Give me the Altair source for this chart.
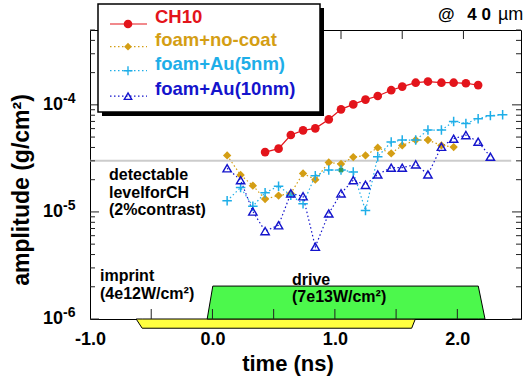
import altair as alt
import pandas as pd

FONT = "Liberation Sans"

# sampling times (ns) shared by all series
time_ns = [0.12, 0.23, 0.33, 0.43, 0.54, 0.64, 0.74, 0.84, 0.95, 1.05, 1.15, 1.25,
           1.35, 1.46, 1.55, 1.66, 1.76, 1.87, 1.97, 2.07, 2.17, 2.27, 2.37]

# amplitude (g/cm^2) per series; CH10 starts at t = 0.43 ns
ch10 = [3.62e-5, 3.90e-5, 5.23e-5, 5.78e-5, 6.03e-5, 7.31e-5, 9.08e-5, 1.01e-4, 1.12e-4,
        1.21e-4, 1.37e-4, 1.48e-4, 1.61e-4, 1.65e-4, 1.61e-4, 1.61e-4, 1.59e-4, 1.53e-4]
foam_nocoat = [3.37e-5, 2.21e-5, 1.76e-5, 1.32e-5, 1.42e-5, 1.49e-5, 2.29e-5, 2.00e-5,
               2.90e-5, 2.80e-5, 3.25e-5, 3.37e-5, 3.98e-5, 3.52e-5, 4.18e-5, 4.69e-5,
               4.69e-5, 4.18e-5, 4.03e-5]
foam_au5 = [1.27e-5, 1.69e-5, 1.13e-5, 1.51e-5, 1.74e-5, 1.43e-5, 1.19e-5, 2.18e-5,
            2.46e-5, 2.46e-5, 2.36e-5, 1.03e-5, 3.28e-5, 4.49e-5, 4.69e-5, 4.69e-5,
            5.81e-5, 5.81e-5, 6.98e-5, 6.71e-5, 7.43e-5, 7.93e-5, 8.10e-5]
foam_au10 = [2.56e-5, 1.98e-5, 1.01e-5, 6.62e-6, 7.51e-6, 1.49e-5, 1.40e-5, 4.73e-6,
             9.68e-6, 1.49e-5, 1.98e-5, 1.79e-5, 2.24e-5, 2.59e-5, 2.59e-5, 2.78e-5,
             2.24e-5, 4.06e-5, 4.83e-5, 5.22e-5, 4.53e-5, 3.28e-5]
stray_t = [1.05]
stray_a = [2.46e-5]

# detectable level for CH (2% contrast)
detect_level = 3.0e-5
detect_t = [-1.0, 2.44]

# laser pulses drawn along the time axis
imprint_t = [-0.623, -0.574, 1.627, 1.657]
imprint_top = [1e-6, 1e-6, 1e-6, 1e-6]
imprint_bot = [1e-6, 8.2e-7, 8.2e-7, 1e-6]
drive_t = [-0.043, 0.003, 2.171, 2.226]
drive_top = [1e-6, 2.03e-6, 2.03e-6, 1e-6]
drive_bot = [1e-6, 1e-6, 1e-6, 1e-6]

x_ticks_bottom = [-0.5, 0.0, 0.5, 1.0, 1.5, 2.0]
x_ticks_top = [-0.45, 0.05, 0.55, 1.05, 1.55, 2.05]
x_labels = [-1.0, 0.0, 1.0, 2.0]
decades = [1e-4, 1e-5, 1e-6]
decade_exp = ["-4", "-5", "-6"]
minor_ticks = [m * d for d in [1e-6, 1e-5, 1e-4] for m in range(2, 10) if m * d <= 5e-4]

RED = "#e3141b"
GOLD = "#d49e14"
CYAN = "#1eaee8"
BLUE = "#1414cc"

W, H = 431, 289

x_scale = alt.Scale(domain=[-1.0, 2.52], nice=False, zero=False)
y_scale = alt.Scale(type="log", domain=[1e-6, 5e-4], nice=False)

label_expr = ("datum.value < 0 ? '-' + format(-datum.value, '.1f') "
              ": format(datum.value, '.1f')")
x_axis = alt.Axis(values=x_labels, labelExpr=label_expr, title=None, ticks=False,
                  domain=False, grid=False, labelFont=FONT, labelFontSize=18,
                  labelFontWeight="bold", labelColor="black", labelPadding=11,
                  labelFlush=False, labelOverlap=False)


def X(field="t"):
    return alt.X(f"{field}:Q", scale=x_scale, axis=x_axis)


def Y(field="a"):
    return alt.Y(f"{field}:Q", scale=y_scale, axis=None)


one = pd.DataFrame({"k": [0]})


def series_df(values, start):
    return pd.DataFrame({"t": time_ns[start:start + len(values)], "a": values})


df_ch10 = series_df(ch10, 3)
df_gold = series_df(foam_nocoat, 0)
df_cyan = series_df(foam_au5, 0)
df_blue = series_df(foam_au10, 0)

CROSS = "M-1,0H1M0,-1V1"

layers = []

# pulses
imprint_df = pd.DataFrame({"t": imprint_t, "a": imprint_top, "a2": imprint_bot})
drive_df = pd.DataFrame({"t": drive_t, "a": drive_top, "a2": drive_bot})
layers.append(alt.Chart(imprint_df).mark_area(color="#ffff40", stroke="black",
                                               strokeWidth=1, opacity=1)
              .encode(x=X(), y=Y(), y2="a2:Q"))
layers.append(alt.Chart(drive_df).mark_area(color="#4cf84c", stroke="black",
                                             strokeWidth=1, opacity=1)
              .encode(x=X(), y=Y(), y2="a2:Q"))

# detectable level line
detect_df = pd.DataFrame({"t": [detect_t[0]], "t2": [detect_t[1]], "a": [detect_level]})
layers.append(alt.Chart(detect_df).mark_rule(color="#cccccc", strokeWidth=2)
              .encode(x=X(), x2="t2:Q", y=Y()))

# inward axis ticks
tick_color = "#222222"
bt = pd.DataFrame({"t": x_ticks_bottom})
layers.append(alt.Chart(bt).mark_rule(color=tick_color, strokeWidth=1)
              .encode(x=X(), y=alt.value(H), y2=alt.value(H - 10)))
tt = pd.DataFrame({"t": x_ticks_top})
layers.append(alt.Chart(tt).mark_rule(color=tick_color, strokeWidth=1)
              .encode(x=X(), y=alt.value(0), y2=alt.value(9)))
maj = pd.DataFrame({"a": decades, "exp": decade_exp})
mnr = pd.DataFrame({"a": minor_ticks})
for x0, length in [(0, 9), (W, -9)]:
    layers.append(alt.Chart(maj).mark_rule(color=tick_color, strokeWidth=1)
                  .encode(y=Y(), x=alt.value(x0), x2=alt.value(x0 + length)))
    layers.append(alt.Chart(mnr).mark_rule(color=tick_color, strokeWidth=1)
                  .encode(y=Y(), x=alt.value(x0), x2=alt.value(x0 + length * 5 / 9)))

# series lines
layers.append(alt.Chart(df_gold).mark_line(color=GOLD, strokeWidth=1.2, strokeDash=[1.5, 2.5])
              .encode(x=X(), y=Y()))
layers.append(alt.Chart(df_cyan).mark_line(color=CYAN, strokeWidth=1.2, strokeDash=[1.5, 2.5])
              .encode(x=X(), y=Y()))
layers.append(alt.Chart(df_blue).mark_line(color=BLUE, strokeWidth=1.2, strokeDash=[1.5, 2.5])
              .encode(x=X(), y=Y()))
layers.append(alt.Chart(df_ch10).mark_line(color=RED, strokeWidth=1.2)
              .encode(x=X(), y=Y()))

# series markers
layers.append(alt.Chart(df_gold).mark_point(shape="diamond", filled=True, size=70,
                                             color=GOLD, opacity=1)
              .encode(x=X(), y=Y()))
layers.append(alt.Chart(df_cyan).mark_point(shape=CROSS, filled=False, size=90,
                                             color=CYAN, strokeWidth=1.5, opacity=1)
              .encode(x=X(), y=Y()))
stray_df = pd.DataFrame({"t": stray_t, "a": stray_a})
layers.append(alt.Chart(stray_df).mark_point(shape="cross", filled=True, size=30, angle=45,
                                              color="#2f9a5c", opacity=1)
              .encode(x=X(), y=Y()))
layers.append(alt.Chart(df_blue).mark_point(shape="triangle-up", filled=False, size=70,
                                             color=BLUE, strokeWidth=1.4, opacity=1)
              .encode(x=X(), y=Y()))
layers.append(alt.Chart(df_ch10).mark_point(shape="circle", filled=True, size=75,
                                             color=RED, opacity=1)
              .encode(x=X(), y=Y()))


def text(s, x, y, size=16, color="black", weight="bold", align="left",
         baseline="alphabetic", angle=0):
    return (alt.Chart(one)
            .mark_text(text=s, font=FONT, fontSize=size, fontWeight=weight, color=color,
                       align=align, baseline=baseline, angle=angle)
            .encode(x=alt.value(x), y=alt.value(y)))


# y axis decade labels 10^n
layers.append(alt.Chart(maj).mark_text(text="10", font=FONT, fontSize=18, fontWeight="bold",
                                        color="black", align="right", baseline="middle")
              .encode(y=Y(), x=alt.value(-27)))
layers.append(alt.Chart(maj).mark_text(font=FONT, fontSize=14, fontWeight="bold",
                                        color="black", align="left", baseline="middle", dy=-6)
              .encode(y=Y(), x=alt.value(-27), text="exp:N"))

# axis titles
layers.append(text("amplitude (g/cm²)", -68, 160, size=23, align="center",
                   baseline="middle", angle=270))
layers.append(text("time (ns)", 198, 341, size=22, align="center"))

# annotations
for i, line in enumerate(["detectable", "levelforCH", "(2%contrast)"]):
    layers.append(text(line, 19, 150 + 17.5 * i, size=16))
layers.append(text("imprint", 10, 251, size=16))
layers.append(text("(4e12W/cm²)", 10, 269, size=16))
layers.append(text("drive", 202, 255, size=16))
layers.append(text("(7e13W/cm²)", 202, 272, size=16))
layers.append(text("@", 348, -10, size=17, align="left"))
layers.append(text("4 0", 401, -10, size=17, align="right"))
layers.append(text("µm", 408, -10, size=18, weight="normal"))

# legend box with drop shadow
layers.append(alt.Chart(one).mark_rect(color="black")
              .encode(x=alt.value(12), x2=alt.value(234), y=alt.value(-22), y2=alt.value(86)))
layers.append(alt.Chart(one).mark_rect(fill="white", stroke="black", strokeWidth=1.5)
              .encode(x=alt.value(8), x2=alt.value(230), y=alt.value(-26), y2=alt.value(82)))

legend_entries = [
    ("CH10", RED, None, "circle", True, 75),
    ("foam+no-coat", GOLD, [1.5, 2.5], "diamond", True, 60),
    ("foam+Au(5nm)", CYAN, [1.5, 2.5], CROSS, False, 80),
    ("foam+Au(10nm)", BLUE, [1.5, 2.5], "triangle-up", False, 55),
]
row_y = [-6, 16.7, 40.7, 66.2]
for (name, color, dash, shape, filled, size), ry in zip(legend_entries, row_y):
    rule_kw = dict(color=color, strokeWidth=1.2)
    if dash is not None:
        rule_kw["strokeDash"] = dash
    layers.append(alt.Chart(one).mark_rule(**rule_kw)
                  .encode(x=alt.value(20), x2=alt.value(57), y=alt.value(ry)))
    layers.append(alt.Chart(one).mark_point(shape=shape, filled=filled, size=size,
                                            color=color, strokeWidth=1.4, opacity=1)
                  .encode(x=alt.value(38), y=alt.value(ry)))
    layers.append(text(name, 65, ry - 1, size=18.5, color=color))

chart = (alt.layer(*layers)
         .properties(width=W, height=H,
                     padding={"left": 90, "top": 30, "right": 10, "bottom": 59},
                     autosize=alt.AutoSizeParams(type="none"),
                     background="white")
         .configure_view(stroke="black", strokeWidth=1))

chart.save("out.html", embed_options={"renderer": "svg", "actions": False})
